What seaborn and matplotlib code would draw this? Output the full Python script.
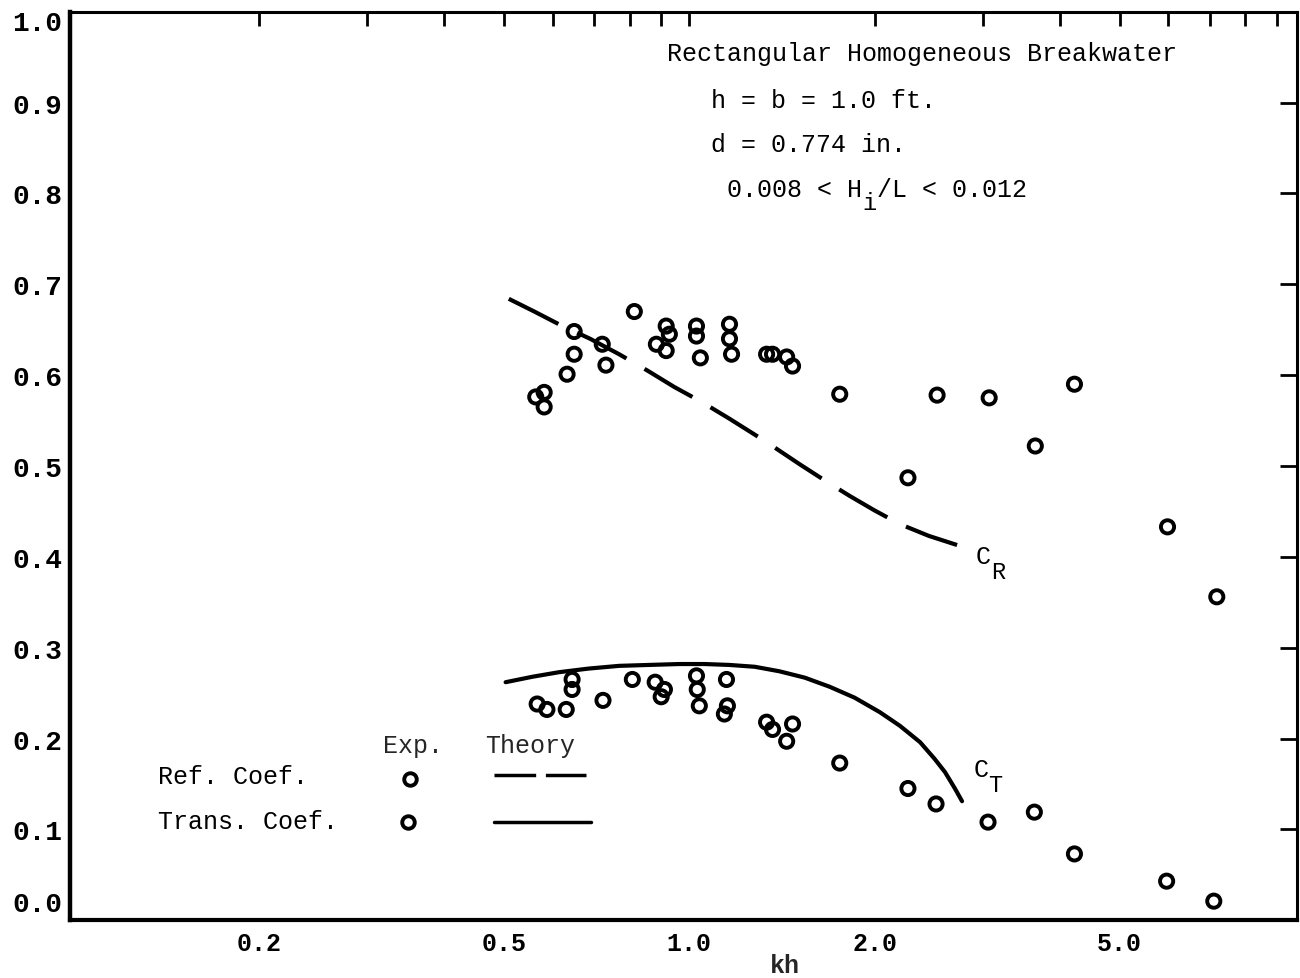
import matplotlib
matplotlib.use("Agg")
import matplotlib.pyplot as plt
from matplotlib.ticker import NullLocator
from matplotlib.transforms import ScaledTranslation
import seaborn as sns
import pandas as pd

# experimental points, reflection coefficient
ref_kh = [0.563, 0.581, 0.581, 0.633, 0.650, 0.650, 0.722, 0.732, 0.814, 0.884,
          0.917, 0.917, 0.928, 1.027, 1.027, 1.042, 1.162, 1.162, 1.171, 1.335,
          1.365, 1.439, 1.471, 1.755, 2.265, 2.526, 3.069, 3.647, 4.222, 5.98, 7.19]
ref_c = [0.576, 0.581, 0.565, 0.601, 0.623, 0.648, 0.634, 0.611, 0.670, 0.634,
         0.627, 0.654, 0.645, 0.654, 0.643, 0.619, 0.656, 0.640, 0.623, 0.623,
         0.623, 0.620, 0.610, 0.579, 0.487, 0.578, 0.575, 0.522, 0.590, 0.433, 0.356]

# experimental points, transmission coefficient
trans_kh = [0.566, 0.587, 0.631, 0.645, 0.645, 0.724, 0.808, 0.880, 0.911, 0.900,
            1.027, 1.030, 1.038, 1.149, 1.153, 1.140, 1.335, 1.365, 1.471, 1.439,
            1.755, 2.265, 2.516, 3.056, 3.634, 4.222, 5.96, 7.11]
trans_c = [0.238, 0.232, 0.232, 0.265, 0.254, 0.242, 0.265, 0.262, 0.254, 0.246,
           0.269, 0.254, 0.236, 0.265, 0.236, 0.227, 0.218, 0.210, 0.216, 0.197,
           0.173, 0.145, 0.128, 0.108, 0.119, 0.073, 0.043, 0.021]

# theory curves
ref_theory_kh = [0.509, 0.560, 0.614, 0.690, 0.769, 0.855, 0.945, 1.050, 1.162,
                 1.330, 1.510, 1.660, 1.822, 2.000, 2.198, 2.450, 2.722]
ref_theory_c = [0.684, 0.670, 0.656, 0.640, 0.623, 0.605, 0.587, 0.570, 0.552,
                0.527, 0.502, 0.484, 0.467, 0.451, 0.436, 0.423, 0.413]
trans_theory_kh = [0.503, 0.556, 0.614, 0.686, 0.769, 0.859, 0.963, 1.060, 1.162,
                   1.277, 1.401, 1.540, 1.690, 1.855, 2.039, 2.198, 2.370, 2.500,
                   2.602, 2.700, 2.773]
trans_theory_c = [0.262, 0.268, 0.273, 0.277, 0.280, 0.281, 0.282, 0.282, 0.281,
                  0.279, 0.274, 0.267, 0.257, 0.245, 0.229, 0.214, 0.196, 0.178,
                  0.163, 0.145, 0.131]

x_ticks = [0.2, 0.3, 0.4, 0.5, 0.6, 0.7, 0.8, 0.9, 1, 2, 3, 4, 5, 6, 7, 8, 9]
x_shown = {0.2: "0.2", 0.5: "0.5", 1: "1.0", 2: "2.0", 5: "5.0"}
y_ticks = [0.0, 0.1, 0.2, 0.3, 0.4, 0.5, 0.6, 0.7, 0.8, 0.9, 1.0]
y_labels = ["0.0", "0.1", "0.2", "0.3", "0.4", "0.5", "0.6", "0.7", "0.8", "0.9", "1.0"]

sns.set_theme(style="white")
plt.rcParams["font.family"] = ["Liberation Mono", "DejaVu Sans Mono"]
plt.rcParams["lines.scale_dashes"] = False

exp_ref = pd.DataFrame({"kh": ref_kh, "coef": ref_c})
exp_trans = pd.DataFrame({"kh": trans_kh, "coef": trans_c})
th_ref = pd.DataFrame({"kh": ref_theory_kh, "coef": ref_theory_c})
th_trans = pd.DataFrame({"kh": trans_theory_kh, "coef": trans_theory_c})

fig = plt.figure(figsize=(13, 9.79), dpi=100)
ax = fig.add_axes([0.054, 0.059, 0.944, 0.928])

circle_kw = dict(marker="o", s=90, facecolors="none", edgecolor="black", linewidth=2.8, zorder=3)
sns.scatterplot(data=exp_ref, x="kh", y="coef", ax=ax, **circle_kw)
sns.scatterplot(data=exp_trans, x="kh", y="coef", ax=ax, **circle_kw)

sns.lineplot(data=th_ref, x="kh", y="coef", ax=ax, sort=False, estimator=None,
             color="black", linewidth=3)
ax.lines[-1].set_dashes([40, 15])
sns.lineplot(data=th_trans, x="kh", y="coef", ax=ax, sort=False, estimator=None,
             color="black", linewidth=3)
ax.lines[-1].set_solid_joinstyle("round")

ax.set_xscale("log")
ax.set_xlim(0.0987, 9.72)
ax.set_ylim(0.0, 1.0)
ax.set_xticks(x_ticks)
ax.set_xticklabels([x_shown.get(t, "") for t in x_ticks])
ax.xaxis.set_minor_locator(NullLocator())
ax.set_yticks(y_ticks)
ax.set_yticklabels(y_labels)

ax.tick_params(axis="both", which="major", direction="in", top=True, right=True,
               width=2, colors="black")
ax.tick_params(axis="x", length=10, pad=8, labelsize=18)
ax.tick_params(axis="y", length=12, pad=6, labelsize=20)
for lab in ax.get_xticklabels() + ax.get_yticklabels():
    lab.set_fontweight("bold")

# the scanned corner labels sit a little inside the frame
yt = ax.yaxis.get_major_ticks()
yt[0].label1.set_transform(yt[0].label1.get_transform() + ScaledTranslation(0, 0.19, fig.dpi_scale_trans))
yt[-1].label1.set_transform(yt[-1].label1.get_transform() + ScaledTranslation(0, -0.08, fig.dpi_scale_trans))

for side, lw in [("left", 3.2), ("bottom", 3.0), ("top", 2.2), ("right", 2.2)]:
    ax.spines[side].set_color("black")
    ax.spines[side].set_linewidth(lw)

ax.set_ylabel("")
ax.set_xlabel("kh", fontsize=18, fontweight="bold")
ax.xaxis.set_label_coords(0.582, -0.036)

# text block, upper right (typewriter: one character = 15 px = 10.8 pt)
tk = dict(transform=ax.transAxes, fontsize=18, color="black", va="center", ha="left")
sub = dict(fontsize=17, color="black", va="center", ha="left", textcoords="offset points")
ch = 10.8
ax.text(0.486, 0.955, "Rectangular Homogeneous Breakwater", **tk)
ax.text(0.522, 0.903, "h = b = 1.0 ft.", **tk)
ax.text(0.522, 0.854, "d = 0.774 in.", **tk)
ax.text(0.535, 0.805, "0.008 < H", **tk)
ax.annotate("i", xy=(0.535, 0.805), xycoords="axes fraction", xytext=(9 * ch + 0.5, -9.5), **sub)
ax.annotate("/L < 0.012", xy=(0.535, 0.805), xycoords="axes fraction", xytext=(10 * ch, 0),
            fontsize=18, color="black", va="center", ha="left", textcoords="offset points")

# curve labels
ax.text(0.738, 0.401, "C", **tk)
ax.annotate("R", xy=(0.738, 0.401), xycoords="axes fraction", xytext=(ch, -11), **sub)
ax.text(0.736, 0.166, "C", **tk)
ax.annotate("T", xy=(0.736, 0.166), xycoords="axes fraction", xytext=(ch, -11), **sub)

# legend table, lower left
ax.text(0.279, 0.193, "Exp.", transform=ax.transAxes, fontsize=18, ha="center", va="center")
ax.text(0.375, 0.193, "Theory", transform=ax.transAxes, fontsize=18, ha="center", va="center")
ax.text(0.0717, 0.159, "Ref. Coef.", **tk)
ax.text(0.0717, 0.109, "Trans. Coef.", **tk)
ax.plot([0.277], [0.156], "o", transform=ax.transAxes, ms=9, mfc="none", mec="black", mew=2.8)
ax.plot([0.275], [0.108], "o", transform=ax.transAxes, ms=9, mfc="none", mec="black", mew=2.8)
ax.plot([0.345, 0.420], [0.160, 0.160], transform=ax.transAxes, color="black", lw=2.5,
        dashes=[30, 7])
ax.plot([0.345, 0.424], [0.108, 0.108], transform=ax.transAxes, color="black", lw=2.5)

fig.savefig("out.png", dpi=100)
